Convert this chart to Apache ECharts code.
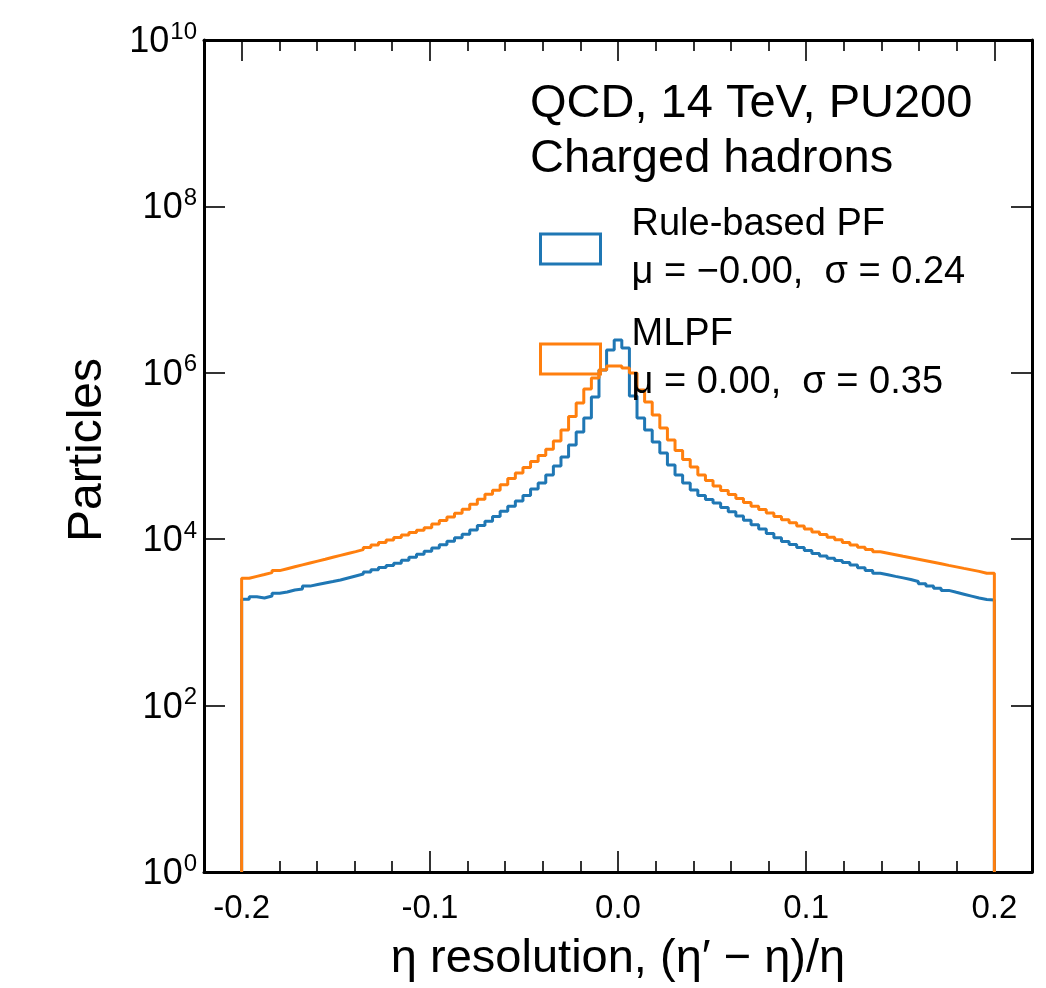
<!DOCTYPE html>
<html><head><meta charset="utf-8">
<script src="https://cdn.jsdelivr.net/npm/echarts@6/dist/echarts.min.js"></script>
<style>html,body{margin:0;padding:0;background:#fff}#c{width:1046px;height:988px}</style>
</head><body><div id="c"></div>
<script>
// Histogram range (99 equal bins between these edges)
const binLow = -0.2;
const binHigh = 0.2;

const ruleBasedPF = [1896, 2036, 1965, 2076, 2238, 2320, 2452, 2520, 2731, 2855,
 2977, 3102, 3234, 3418, 3612, 3817, 4046, 4288, 4557, 4830,
 5132, 5578, 6061, 6586, 7155, 7816, 8588, 9462, 10390, 11480,
 12940, 14610, 16450, 18740, 21640, 24930, 28780, 33420, 40130, 47380,
 59090, 75820, 97280, 135600, 194300, 286200, 511900, 1080000, 1879000, 2479000,
 1987000, 526300, 286200, 205300, 147300, 108700, 77950, 59090, 47380, 39030,
 33510, 30010, 27240, 24040, 21400, 19000, 16880, 14900, 13260, 11740,
 10390, 9383, 8637, 7946, 7314, 6733, 6300, 5910, 5546, 5233,
 4884, 4532, 4206, 3892, 3734, 3572, 3427, 3278, 3102, 2919,
 2738, 2577, 2425, 2300, 2183, 2071, 1965, 1885, 1859];

const mlpf = [3388, 3572, 3764, 3968, 4194, 4420, 4660, 4911, 5176, 5456,
 5749, 6061, 6388, 6733, 7096, 7499, 7946, 8517, 9125, 9754,
 10450, 11200, 12000, 12830, 13750, 15230, 16780, 18490, 20480, 22940,
 26350, 30170, 34740, 38700, 45190, 53510, 62480, 72550, 85630, 101400,
 120400, 151500, 205300, 298400, 433600, 638800, 866100, 1080000, 1207000, 1207000,
 1142000, 994500, 621400, 445700, 311000, 217000, 155700, 116400, 90770, 73770,
 59090, 50760, 43590, 38590, 34450, 30850, 27540, 24930, 22690, 20590,
 18740, 17110, 15740, 14450, 13300, 12240, 11390, 10570, 9836, 9125,
 8541, 8012, 7520, 7077, 6789, 6513, 6232, 5977, 5734, 5500,
 5277, 5062, 4843, 4648, 4457, 4276, 4103, 3892, 3892];

const seriesNames = ['Rule-based PF\nμ = −0.00,  σ = 0.24', 'MLPF\nμ = 0.00,  σ = 0.35'];
const titleLines = ['QCD, 14 TeV, PU200', 'Charged hadrons'];
const xMajorTicks = [-0.2, -0.1, 0.0, 0.1, 0.2];
const xMinorTicks = [-0.18, -0.16, -0.14, -0.12, -0.08, -0.06, -0.04, -0.02, 0.02, 0.04, 0.06, 0.08, 0.12, 0.14, 0.16, 0.18];
const yMajorTicks = [1, 1e2, 1e4, 1e6, 1e8, 1e10];
const xLimits = [-0.22, 0.22];
const yLimits = [1, 1e10];

const FONT = '"Liberation Sans", Arial, Helvetica, sans-serif';

function stepData(vals) {
  const n = vals.length, w = (binHigh - binLow) / n;
  const d = [[binLow, yLimits[0]]];
  for (let i = 0; i < n; i++) d.push([binLow + i * w, vals[i]]);
  d.push([binHigh, vals[n - 1]]);
  d.push([binHigh, yLimits[0]]);
  return d;
}

const chart = echarts.init(document.getElementById('c'), null, {renderer: 'canvas'});
const axisLineStyle = {color: '#000', width: 3};
const tickStyle = {color: '#000', width: 1.6};

function xAx(pos, ticks, len, showLine, labels) {
  const a = {
    type: 'value', position: pos, min: xLimits[0], max: xLimits[1],
    axisLine: {show: showLine, onZero: false, lineStyle: axisLineStyle},
    axisTick: {show: true, inside: true, length: len, lineStyle: tickStyle, customValues: ticks},
    axisLabel: {show: false},
    splitLine: {show: false}
  };
  if (labels) {
    a.axisLabel = {show: true, customValues: ticks, formatter: v => v.toFixed(1), fontSize: 33,
      color: '#000', margin: 20, fontFamily: FONT};
    a.name = 'η resolution, (η′ − η)/η';
    a.nameLocation = 'middle';
    a.nameGap = 64;
    a.nameTextStyle = {fontSize: 47, color: '#000', fontFamily: FONT, verticalAlign: 'top'};
  }
  return a;
}

function yAx(pos, labels) {
  const a = {
    type: 'log', logBase: 10, position: pos, min: yLimits[0], max: yLimits[1],
    axisLine: {show: true, onZero: false, lineStyle: axisLineStyle},
    axisTick: {show: true, inside: true, length: 21, lineStyle: tickStyle, customValues: yMajorTicks},
    minorTick: {show: false},
    axisLabel: {show: false},
    splitLine: {show: false}
  };
  if (labels) {
    a.axisLabel = {
      show: true, margin: 7, color: '#000', fontFamily: FONT, customValues: yMajorTicks,
      formatter: v => '{b|10}{s|' + Math.round(Math.log10(v)) + '}',
      rich: {
        b: {fontSize: 36, fontFamily: FONT, color: '#000', lineHeight: 40, verticalAlign: 'bottom'},
        s: {fontSize: 24, fontFamily: FONT, color: '#000', lineHeight: 40, verticalAlign: 'top', padding: [0, 0, 0, 1]}
      }
    };
    a.name = 'Particles';
    a.nameLocation = 'middle';
    a.nameGap = 92;
    a.nameRotate = 90;
    a.nameTextStyle = {fontSize: 48, color: '#000', fontFamily: FONT, padding: [0, 0, 0, 12]};
  }
  return a;
}

const option = {
  animation: false,
  backgroundColor: '#fff',
  grid: {left: 204, right: 14, top: 40, bottom: 116, containLabel: false},
  title: {
    text: titleLines.join('\n'), left: 530, top: 77, padding: 0,
    textStyle: {fontSize: 47, lineHeight: 55, fontWeight: 'normal', color: '#000', fontFamily: FONT}
  },
  legend: {
    orient: 'vertical', left: 534, top: 196, itemWidth: 60, itemHeight: 30, itemGap: 14,
    selectedMode: false,
    textStyle: {fontSize: 38, lineHeight: 48, color: '#000', fontFamily: FONT, padding: [0, 0, 0, 26]},
    data: [
      {name: seriesNames[0], icon: 'rect', itemStyle: {color: 'rgba(255,255,255,0)', borderColor: '#1f77b4', borderWidth: 3}},
      {name: seriesNames[1], icon: 'rect', itemStyle: {color: 'rgba(255,255,255,0)', borderColor: '#ff7f0e', borderWidth: 3}}
    ]
  },
  xAxis: [
    xAx('bottom', xMajorTicks, 21, true, true),
    xAx('bottom', xMinorTicks, 11, false, false),
    xAx('top', xMajorTicks, 21, true, false),
    xAx('top', xMinorTicks, 11, false, false)
  ],
  yAxis: [yAx('left', true), yAx('right', false)],
  series: [
    {name: seriesNames[0], type: 'line', step: 'end', data: stepData(ruleBasedPF), showSymbol: false,
     xAxisIndex: 0, yAxisIndex: 0, lineStyle: {color: '#1f77b4', width: 3}, itemStyle: {color: '#1f77b4'}, z: 2},
    {name: seriesNames[1], type: 'line', step: 'end', data: stepData(mlpf), showSymbol: false,
     xAxisIndex: 0, yAxisIndex: 0, lineStyle: {color: '#ff7f0e', width: 3}, itemStyle: {color: '#ff7f0e'}, z: 3}
  ]
};
chart.setOption(option);
</script></body></html>
